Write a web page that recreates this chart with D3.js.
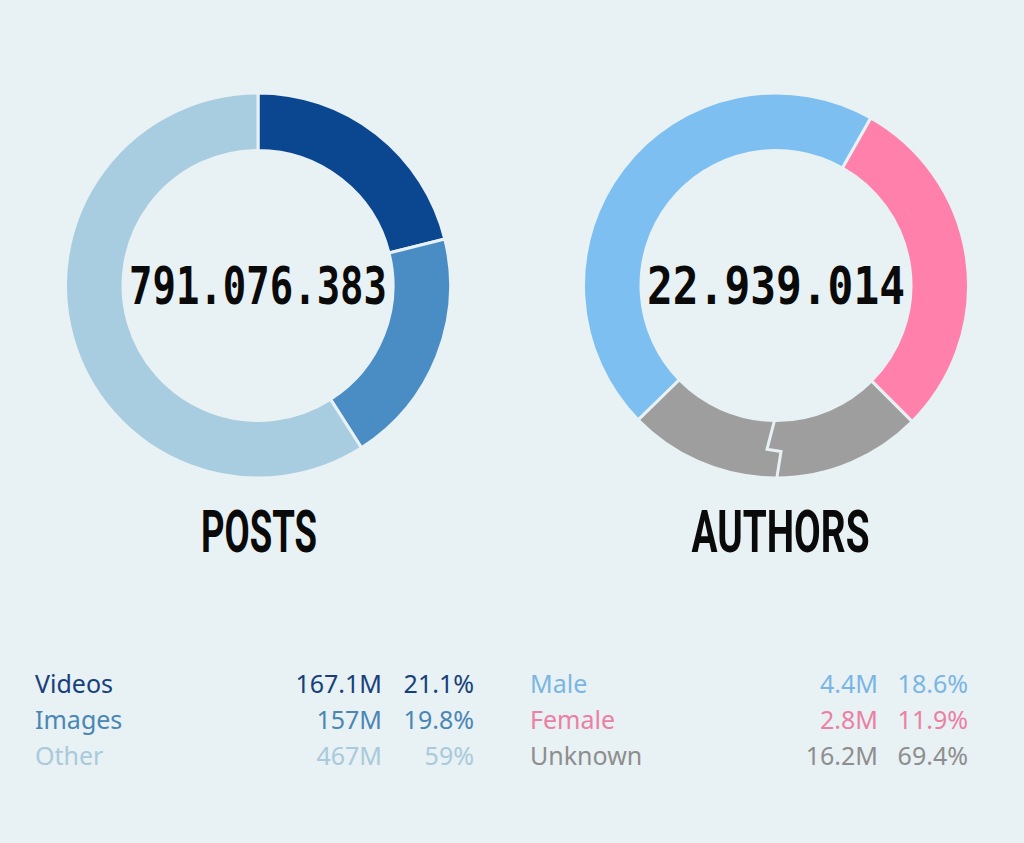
<!DOCTYPE html>
<html lang="en">
<head>
    <meta charset="UTF-8">
    <script src="https://cdn.jsdelivr.net/npm/d3@7/dist/d3.min.js"></script>
    <title>Posts and Authors</title>
    <style>
        html, body {
            margin: 0px;
            padding: 0px;
            width: 100%;
            height: 100%;
            background-color: #e8f1f3;
        }
        svg { display: block; }
        .legend { font-family: "Noto Sans", "Open Sans", sans-serif; font-size: 25px; }
        .big { font-family: "DejaVu Sans Mono", monospace; font-weight: bold; }
        .title { font-family: Roboto, "DejaVu Sans Condensed", sans-serif; font-weight: bold; }
    </style>
</head>
<body>
    <div id="chart"></div>
    <script>

        // posts
        let post_labels = ['Videos', 'Images', 'Other'];
        let post_values = [167.1, 157, 467];
        let post_value_text = ['167.1M', '157M', '467M'];
        let post_pct_text = ['21.1%', '19.8%', '59%'];
        let post_colours = ['#0b4690', '#4a8dc4', '#a8cce0'];
        let post_text_colours = ['#17407a', '#4a86b4', '#a9cadc'];
        let post_total = '791.076.383';

        // authors
        let author_labels = ['Male', 'Female', 'Unknown'];
        let author_value_text = ['4.4M', '2.8M', '16.2M'];
        let author_pct_text = ['18.6%', '11.9%', '69.4%'];
        // ring shares as drawn in the picture (percent of the circle)
        let author_ring = [45.5, 29.3, 25.2];
        let author_ring_start = -134.3; // degrees
        let author_colours = ['#7cbff0', '#ff80ab', '#9e9e9e'];
        let author_text_colours = ['#7ab6e4', '#ec7fa4', '#8e8e8e'];
        let author_total = '22.939.014';

        let width = 1024;
        let height = 843;
        let bg = '#e8f1f3';

        let svg = d3.select('#chart').append('svg').attr('width', width).attr('height', height);

        let outer_r = 192.5;
        let inner_r = 135;

        let arc = d3.arc().innerRadius(inner_r).outerRadius(outer_r);

        function donut(cx, cy, values, colours, start_deg, total, total_width, title, title_width, title_dx, break_index) {
            let g = svg.append('g').attr('transform', `translate(${cx},${cy})`);
            let start = start_deg * Math.PI / 180;
            let pie = d3.pie().sort(null).startAngle(start).endAngle(start + 2 * Math.PI);
            let colour = d3.scaleOrdinal().domain(d3.range(values.length)).range(colours);
            let arcs = pie(values);

            g.selectAll('path.seg')
                .data(arcs)
                .join('path')
                .attr('class', 'seg')
                .attr('d', arc)
                .attr('fill', (d, i) => colour(i))
                .attr('stroke', bg)
                .attr('stroke-width', 3);

            if(break_index != null) {
                // zigzag break through the middle of a segment
                let a = (arcs[break_index].startAngle + arcs[break_index].endAngle) / 2;
                let zig = [[-0.05, 0], [0.5, 8], [0.54, -6], [1.05, -1.5]];
                let pts = zig.map(([f, t]) => {
                    let r = inner_r + f * (outer_r - inner_r);
                    return [r * Math.sin(a) + t * Math.cos(a), -r * Math.cos(a) + t * Math.sin(a)];
                });
                g.append('path')
                    .attr('d', d3.line()(pts))
                    .attr('fill', 'none')
                    .attr('stroke', bg)
                    .attr('stroke-width', 3);
            }

            g.append('text')
                .attr('class', 'big')
                .attr('x', -total_width / 2)
                .attr('y', 18)
                .attr('font-size', 52)
                .attr('textLength', total_width)
                .attr('lengthAdjust', 'spacingAndGlyphs')
                .attr('fill', '#0a0a0a')
                .text(total);

            g.append('text')
                .attr('class', 'title')
                .attr('x', title_dx - title_width / 2)
                .attr('y', 266)
                .attr('font-size', 60)
                .attr('textLength', title_width)
                .attr('lengthAdjust', 'spacingAndGlyphs')
                .attr('fill', '#0a0a0a')
                .text(title);
        }

        donut(258, 285.5, post_values, post_colours, 0, post_total, 258, 'POSTS', 116, 1, null);
        donut(776, 285.5, author_ring, author_colours, author_ring_start, author_total, 258, 'AUTHORS', 178, 4.5, 2);

        let row = d3.scaleLinear().domain([0, 1]).range([693, 729]);

        function legend(x_label, x_value, x_pct, labels, values, pcts, colours) {
            let g = svg.append('g').attr('class', 'legend');
            let rows = g.selectAll('g')
                .data(labels)
                .join('g')
                .attr('transform', (d, i) => `translate(0,${row(i)})`)
                .attr('fill', (d, i) => colours[i]);
            rows.append('text').attr('x', x_label).text(d => d);
            rows.append('text').attr('x', x_value).attr('text-anchor', 'end').text((d, i) => values[i]);
            rows.append('text').attr('x', x_pct).attr('text-anchor', 'end').text((d, i) => pcts[i]);
        }

        legend(35, 382, 474, post_labels, post_value_text, post_pct_text, post_text_colours);
        legend(530, 878, 968, author_labels, author_value_text, author_pct_text, author_text_colours);

    </script>
</body>
</html>
